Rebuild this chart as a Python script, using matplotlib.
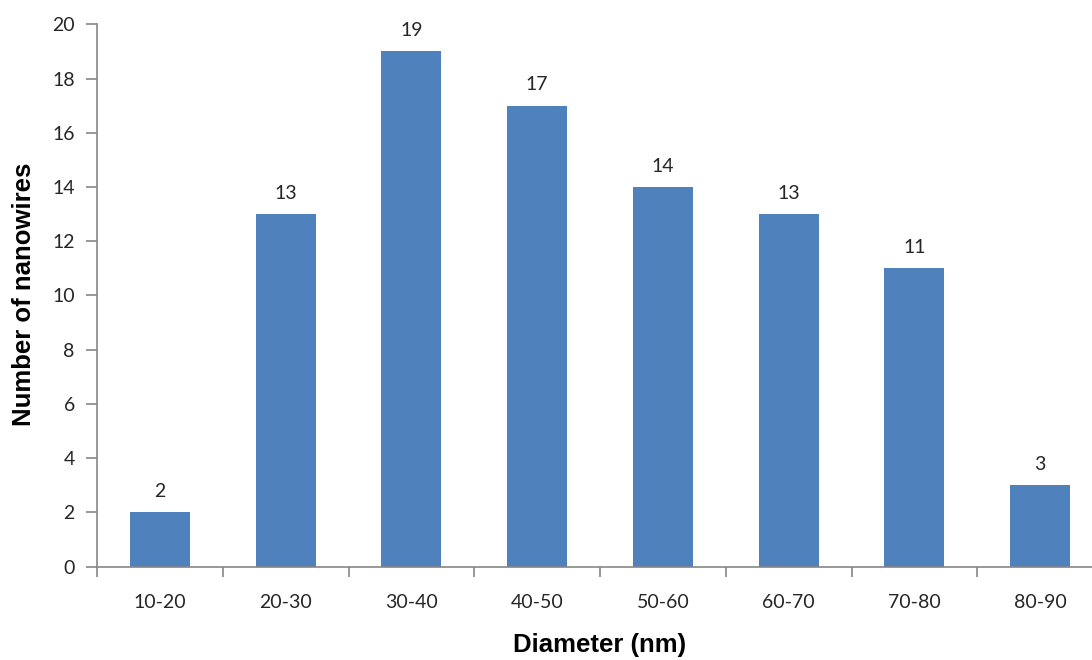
import matplotlib
matplotlib.use("Agg")
import matplotlib.pyplot as plt

categories = ["10-20", "20-30", "30-40", "40-50", "50-60", "60-70", "70-80", "80-90"]
counts = [2, 13, 19, 17, 14, 13, 11, 3]
yticks = [0, 2, 4, 6, 8, 10, 12, 14, 16, 18, 20]

W, H = 1092, 660
fig = plt.figure(figsize=(W / 100, H / 100), dpi=100)
x0, x1 = 97, 1103
y0, y1 = 566.7, 24.3
ax = fig.add_axes([x0 / W, (H - y0) / H, (x1 - x0) / W, (y0 - y1) / H])

axis_color = "#868686"
text_color = "#262626"
tick_font = "Lato"
fs = 14

xs = list(range(len(categories)))
bars = ax.bar(xs, counts, width=0.478, color="#4F81BD", zorder=2)
ax.set_xlim(-0.5, len(categories) - 0.5)
ax.set_ylim(0, 20)

for spine in ["top", "right"]:
    ax.spines[spine].set_visible(False)
for spine in ["left", "bottom"]:
    ax.spines[spine].set_color(axis_color)
    ax.spines[spine].set_linewidth(1.2)

ax.set_yticks(yticks)
ax.set_yticklabels([str(v) for v in yticks], fontsize=fs, family=tick_font, color=text_color)
ax.tick_params(axis="y", direction="out", length=8, width=1.2, color=axis_color, pad=8)

ax.set_xticks([i + 0.5 for i in range(-1, len(categories))])
ax.set_xticklabels([])
ax.tick_params(axis="x", direction="out", length=7, width=1.2, color=axis_color)
for i, c in enumerate(categories):
    ax.annotate(c, xy=(i, 0), xycoords="data", xytext=(0, -26), textcoords="offset points",
                ha="center", va="center", fontsize=fs, family=tick_font, color=text_color)

for i, v in enumerate(counts):
    ax.annotate(str(v), xy=(i, v), xytext=(0, 15), textcoords="offset points",
                ha="center", va="center", fontsize=fs, family=tick_font, color=text_color)

fig.text(600 / W, 1 - 645 / H, "Diameter (nm)", ha="center", va="center",
         fontsize=18.5, fontweight="bold", family="Liberation Sans", color="#000000")
fig.text(24 / W, 1 - 294 / H, "Number of nanowires", ha="center", va="center", rotation=90,
         fontsize=18.5, fontweight="bold", family="Liberation Sans", color="#000000")

fig.savefig("out.png", dpi=100)
